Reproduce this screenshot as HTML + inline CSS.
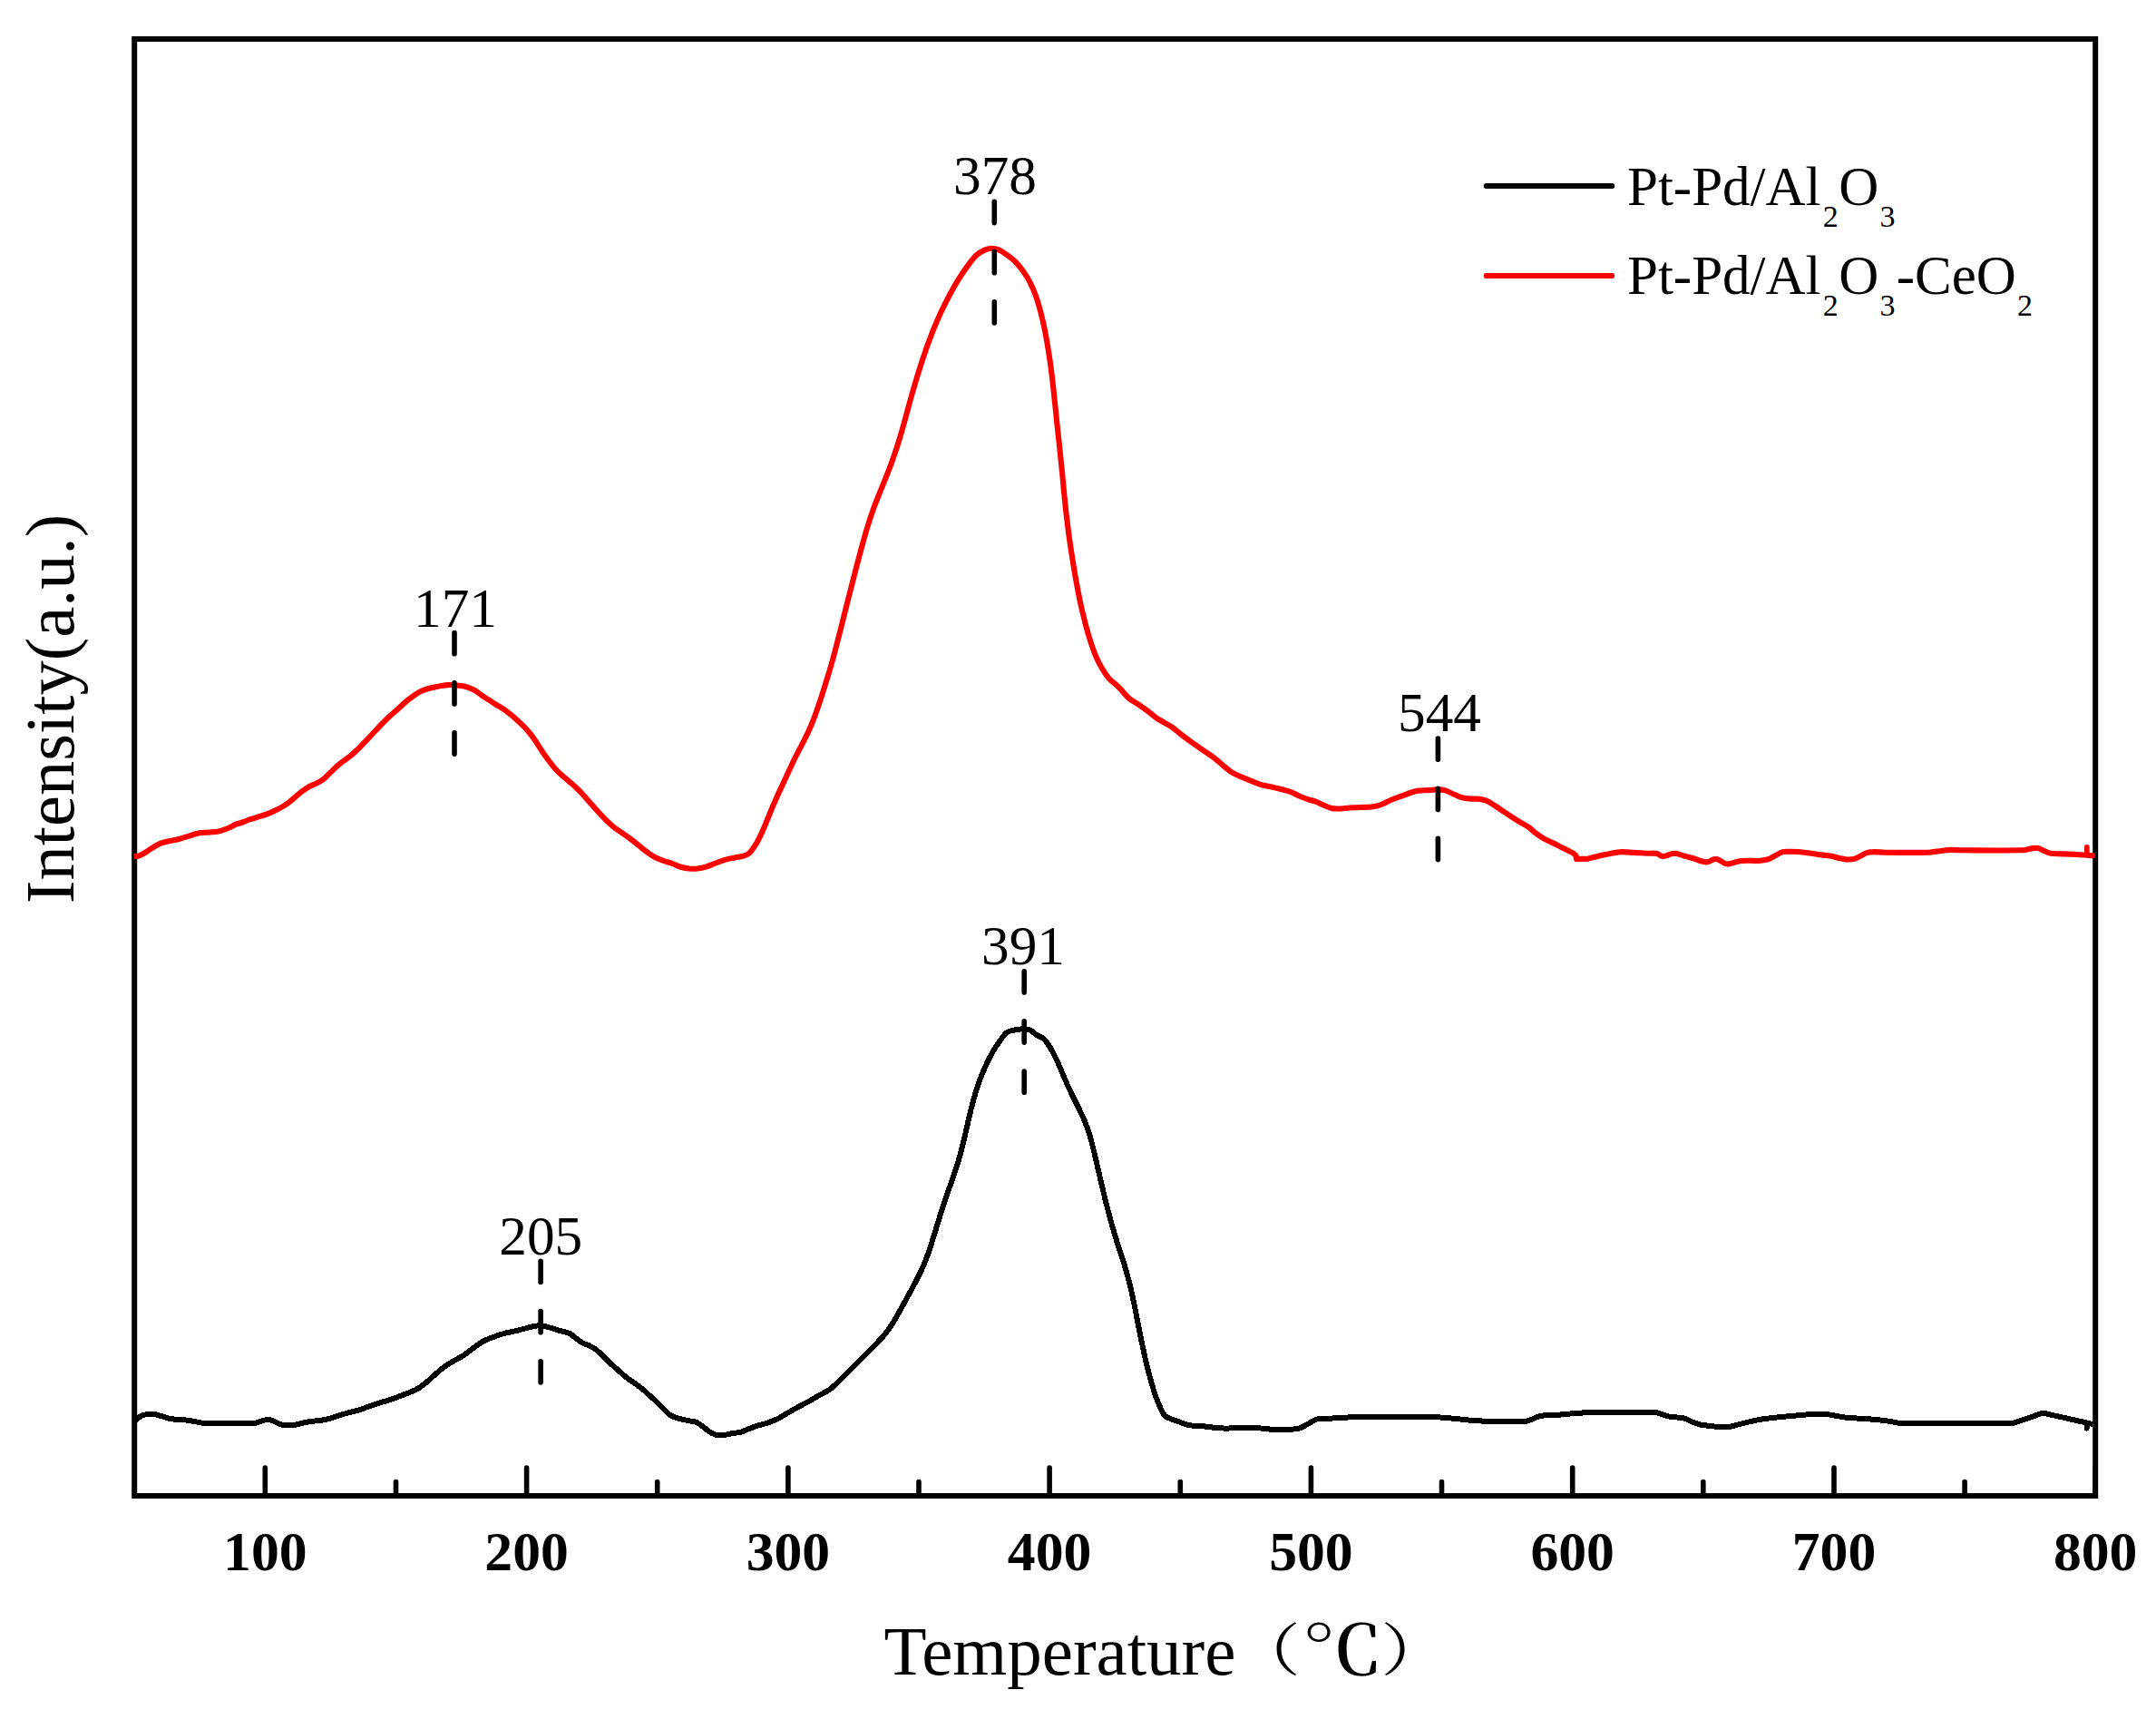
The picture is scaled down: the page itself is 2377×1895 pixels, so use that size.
<!DOCTYPE html>
<html lang="en">
<head>
<meta charset="utf-8">
<title>H2-TPR profiles</title>
<style>
html,body{margin:0;padding:0;background:#fff;}
body{width:2377px;height:1895px;overflow:hidden;}
svg{display:block;}
text{font-family:"Liberation Serif","Noto Serif CJK SC",serif;fill:#000;}
.tl text{font-weight:bold;font-size:61.7px;text-anchor:middle;}
.pk text{font-size:61.3px;text-anchor:middle;}
.lg text{font-size:61px;}
.lg text.s{font-size:34px;}
.ttl{font-size:77px;}
</style>
</head>
<body>
<svg width="2377" height="1895" viewBox="0 0 2377 1895">
<rect width="2377" height="1895" fill="#fff"/>
<g fill="none" stroke="#000" stroke-width="6" stroke-linejoin="miter">
<rect x="148.2" y="43.0" width="2162.0" height="1606.0"/>
</g>
<g stroke="#000" stroke-width="5.6" stroke-linecap="round">
<line x1="292.3" y1="1649" x2="292.3" y2="1618"/>
<line x1="580.6" y1="1649" x2="580.6" y2="1618"/>
<line x1="868.9" y1="1649" x2="868.9" y2="1618"/>
<line x1="1157.1" y1="1649" x2="1157.1" y2="1618"/>
<line x1="1445.4" y1="1649" x2="1445.4" y2="1618"/>
<line x1="1733.7" y1="1649" x2="1733.7" y2="1618"/>
<line x1="2022.0" y1="1649" x2="2022.0" y2="1618"/>
<line x1="2310.2" y1="1649" x2="2310.2" y2="1618"/>
<line x1="436.5" y1="1649" x2="436.5" y2="1633.5"/>
<line x1="724.7" y1="1649" x2="724.7" y2="1633.5"/>
<line x1="1013.0" y1="1649" x2="1013.0" y2="1633.5"/>
<line x1="1301.3" y1="1649" x2="1301.3" y2="1633.5"/>
<line x1="1589.5" y1="1649" x2="1589.5" y2="1633.5"/>
<line x1="1877.8" y1="1649" x2="1877.8" y2="1633.5"/>
<line x1="2166.1" y1="1649" x2="2166.1" y2="1633.5"/>
</g>
<path d="M148.3 1567.4C150.5 1565.4 152.3 1562.9 154.8 1561.4C157.0 1560.1 159.7 1559.4 162.3 1559.0C164.7 1558.6 167.3 1558.7 169.7 1559.0C172.2 1559.3 174.6 1560.2 177.1 1560.9C180.2 1561.8 183.2 1563.0 186.4 1563.7C189.4 1564.4 192.6 1564.7 195.7 1565.0C198.8 1565.3 201.9 1565.2 204.9 1565.5C208.0 1565.8 211.1 1566.5 214.2 1567.0C217.9 1567.6 221.6 1568.7 225.3 1568.9C233.9 1569.4 242.6 1569.2 251.3 1569.2C261.2 1569.2 271.2 1569.6 281.0 1568.9C283.6 1568.7 285.9 1567.2 288.4 1566.5C290.5 1565.9 292.7 1565.1 294.9 1565.0C296.8 1564.9 298.7 1565.5 300.5 1566.1C302.8 1566.9 304.8 1568.3 307.0 1569.2C308.8 1569.9 310.6 1570.9 312.5 1571.1C316.2 1571.5 320.0 1571.5 323.7 1571.1C326.8 1570.8 329.9 1569.6 333.0 1568.9C336.1 1568.2 339.1 1567.5 342.2 1567.0C345.9 1566.5 349.7 1566.4 353.4 1565.9C356.5 1565.4 359.6 1564.8 362.6 1564.0C366.4 1563.0 370.0 1561.4 373.8 1560.3C377.5 1559.2 381.2 1558.2 384.9 1557.2C388.6 1556.2 392.4 1555.5 396.0 1554.4C399.8 1553.2 403.4 1551.6 407.2 1550.3C410.9 1549.0 414.6 1547.8 418.3 1546.6C422.0 1545.4 425.7 1544.5 429.4 1543.3C433.2 1542.0 436.9 1540.6 440.6 1539.2C444.3 1537.8 448.0 1536.4 451.7 1534.9C454.8 1533.6 458.1 1532.3 461.0 1530.6C464.3 1528.6 467.3 1526.2 470.2 1523.8C473.4 1521.2 476.4 1518.1 479.5 1515.4C482.6 1512.7 485.6 1510.0 488.8 1507.6C491.8 1505.4 494.9 1503.4 498.1 1501.5C502.4 1498.9 506.9 1496.8 511.1 1494.1C515.0 1491.6 518.5 1488.5 522.3 1485.8C525.9 1483.2 529.5 1480.4 533.4 1478.3C536.9 1476.4 540.7 1475.1 544.5 1473.7C548.2 1472.3 551.9 1471.0 555.7 1470.0C559.3 1469.0 563.1 1468.5 566.8 1467.6C570.5 1466.7 574.2 1465.7 577.9 1464.8C581.6 1463.9 585.3 1462.7 589.1 1462.0C591.5 1461.5 594.1 1461.2 596.5 1461.3C599.0 1461.5 601.5 1462.2 603.9 1462.9C607.6 1463.9 611.3 1465.2 615.0 1466.3C619.3 1467.6 624.0 1468.2 628.0 1470.0C630.6 1471.2 632.5 1473.5 634.8 1475.2C637.3 1477.0 639.7 1478.9 642.3 1480.4C644.6 1481.7 647.3 1482.2 649.7 1483.4C652.3 1484.7 654.8 1486.1 657.1 1487.8C659.7 1489.8 662.1 1492.2 664.5 1494.5C667.0 1496.9 669.4 1499.5 671.9 1501.9C674.3 1504.2 676.9 1506.4 679.4 1508.6C681.9 1510.8 684.3 1513.1 686.8 1515.3C689.2 1517.3 691.7 1519.3 694.2 1521.2C696.6 1522.9 699.2 1524.4 701.6 1526.1C704.2 1528.0 706.7 1529.9 709.1 1532.0C711.6 1534.1 714.0 1536.5 716.5 1538.7C719.0 1540.9 721.5 1543.1 723.9 1545.4C726.4 1547.8 728.8 1550.4 731.3 1552.8C733.7 1555.2 736.0 1557.9 738.7 1559.8C740.9 1561.3 743.6 1562.3 746.2 1563.2C748.6 1564.0 751.1 1564.4 753.6 1565.0C756.1 1565.5 758.5 1566.0 761.0 1566.5C763.5 1567.0 766.2 1567.1 768.4 1568.2C771.3 1569.6 773.7 1572.0 776.4 1573.9C778.9 1575.7 781.2 1577.9 783.9 1579.4C786.2 1580.7 788.8 1581.8 791.3 1582.2C793.7 1582.6 796.3 1582.2 798.7 1581.9C801.2 1581.6 803.6 1580.9 806.1 1580.4C809.8 1579.7 813.7 1579.5 817.3 1578.5C820.5 1577.6 823.4 1576.0 826.5 1574.8C829.6 1573.6 832.7 1572.5 835.8 1571.5C839.5 1570.3 843.3 1569.6 846.9 1568.3C850.7 1567.0 854.5 1565.5 858.1 1563.7C861.9 1561.8 865.5 1559.3 869.2 1557.2C872.9 1555.1 876.6 1552.9 880.3 1550.9C883.9 1548.9 887.5 1547.2 891.1 1545.2C894.9 1543.1 898.6 1540.8 902.3 1538.7C906.6 1536.2 911.3 1534.2 915.3 1531.3C919.3 1528.4 922.8 1524.6 926.4 1521.1C930.8 1516.9 935.1 1512.4 939.4 1508.1C943.7 1503.8 948.1 1499.4 952.4 1495.1C956.7 1490.8 961.1 1486.5 965.3 1482.1C968.8 1478.4 972.4 1474.8 975.6 1470.9C978.6 1467.2 981.3 1463.2 983.9 1459.1C986.6 1455.0 988.9 1450.7 991.3 1446.4C993.8 1442.0 996.3 1437.5 998.7 1433.0C1001.2 1428.5 1003.6 1424.0 1006.0 1419.5C1008.3 1415.2 1010.7 1410.9 1012.8 1406.5C1014.9 1402.4 1016.8 1398.2 1018.6 1394.0C1020.3 1390.0 1021.9 1385.8 1023.4 1381.7C1024.9 1377.4 1026.2 1373.1 1027.6 1368.8C1029.1 1364.0 1030.6 1359.1 1032.1 1354.2C1033.9 1348.4 1035.6 1342.6 1037.5 1336.8C1039.5 1330.4 1041.7 1324.1 1043.8 1317.7C1046.0 1311.3 1048.3 1305.0 1050.5 1298.6C1052.6 1292.4 1054.7 1286.2 1056.6 1280.0C1058.4 1273.8 1060.1 1267.6 1061.6 1261.3C1063.2 1255.0 1064.6 1248.6 1066.1 1242.3C1067.5 1235.9 1068.9 1229.5 1070.5 1223.1C1072.1 1217.0 1073.6 1210.8 1075.5 1204.8C1077.2 1199.0 1079.2 1193.3 1081.3 1187.7C1083.4 1182.4 1085.7 1177.1 1088.1 1172.0C1090.4 1167.3 1092.8 1162.6 1095.4 1158.0C1097.7 1154.1 1100.2 1150.4 1102.9 1146.8C1105.1 1143.7 1107.3 1140.1 1110.3 1138.0C1112.9 1136.3 1116.4 1135.9 1119.6 1135.3C1122.6 1134.7 1125.7 1134.3 1128.8 1134.3C1131.0 1134.3 1133.4 1134.4 1135.3 1135.3C1138.0 1136.6 1140.1 1139.1 1142.7 1140.8C1145.4 1142.5 1148.8 1143.4 1151.1 1145.5C1153.8 1148.0 1155.8 1151.6 1157.8 1154.8C1160.1 1158.5 1162.1 1162.4 1164.0 1166.3C1166.2 1170.7 1168.0 1175.4 1170.0 1180.0C1172.1 1184.8 1174.1 1189.7 1176.2 1194.5C1178.4 1199.3 1180.6 1204.0 1182.9 1208.8C1185.1 1213.3 1187.5 1217.8 1189.6 1222.3C1191.7 1226.7 1193.9 1231.0 1195.7 1235.5C1197.6 1240.0 1199.2 1244.6 1200.7 1249.2C1202.3 1254.1 1203.6 1259.1 1204.8 1264.1C1206.2 1269.4 1207.4 1274.7 1208.6 1280.0C1209.9 1285.4 1211.1 1290.8 1212.3 1296.1C1213.6 1301.5 1214.8 1306.9 1216.1 1312.2C1217.4 1317.7 1218.7 1323.1 1220.1 1328.5C1221.5 1334.0 1222.9 1339.5 1224.4 1345.0C1225.9 1350.4 1227.5 1355.9 1229.1 1361.3C1230.7 1366.6 1232.4 1371.9 1234.1 1377.2C1235.8 1382.4 1237.6 1387.6 1239.2 1392.8C1240.8 1398.1 1242.3 1403.3 1243.7 1408.6C1245.2 1413.9 1246.4 1419.3 1247.7 1424.7C1248.9 1430.2 1250.0 1435.8 1251.2 1441.3C1252.3 1446.9 1253.3 1452.4 1254.4 1458.0C1255.5 1463.6 1256.6 1469.1 1257.7 1474.7C1258.9 1480.3 1260.1 1485.8 1261.3 1491.4C1262.5 1497.0 1263.8 1502.6 1265.2 1508.1C1266.6 1513.6 1268.0 1519.1 1269.6 1524.6C1271.0 1529.6 1272.5 1534.7 1274.3 1539.7C1275.7 1543.8 1277.4 1547.8 1279.3 1551.8C1280.8 1554.9 1282.1 1558.5 1284.5 1560.9C1286.4 1562.8 1289.4 1563.5 1291.9 1564.6C1294.9 1565.9 1298.1 1566.8 1301.2 1567.9C1304.3 1569.0 1307.3 1570.5 1310.5 1571.1C1314.7 1571.9 1319.2 1571.6 1323.5 1572.0C1326.6 1572.3 1329.7 1572.6 1332.8 1573.0C1336.5 1573.4 1340.2 1574.2 1343.9 1574.4C1351.3 1574.7 1358.8 1574.4 1366.2 1574.4C1373.6 1574.4 1381.0 1574.1 1388.4 1574.4C1392.7 1574.6 1397.1 1575.4 1401.4 1575.7C1405.1 1576.0 1408.8 1576.3 1412.5 1576.3C1416.2 1576.3 1420.0 1576.0 1423.7 1575.7C1426.8 1575.4 1430.0 1575.4 1432.9 1574.4C1436.2 1573.3 1439.1 1571.2 1442.2 1569.6C1445.3 1568.0 1448.2 1565.5 1451.5 1564.6C1455.0 1563.6 1458.9 1564.2 1462.6 1564.0C1468.8 1563.6 1475.0 1563.0 1481.2 1562.7C1490.5 1562.3 1499.7 1561.9 1509.0 1561.8C1524.5 1561.6 1539.9 1561.7 1555.4 1561.8C1564.7 1561.8 1573.9 1561.8 1583.2 1562.2C1589.4 1562.5 1595.6 1563.1 1601.8 1563.7C1609.9 1564.4 1617.9 1565.6 1626.0 1566.1C1634.6 1566.7 1643.3 1566.9 1651.9 1567.0C1661.8 1567.2 1671.8 1567.6 1681.6 1567.0C1684.2 1566.8 1686.6 1565.5 1689.1 1564.6C1692.2 1563.5 1695.1 1561.5 1698.3 1560.9C1703.7 1559.9 1709.4 1560.4 1715.0 1560.0C1723.7 1559.3 1732.3 1558.3 1741.0 1557.7C1749.7 1557.1 1758.3 1556.7 1767.0 1556.6C1776.9 1556.4 1786.8 1556.8 1796.7 1556.8C1806.0 1556.8 1815.3 1556.2 1824.5 1556.8C1827.1 1557.0 1829.4 1558.3 1831.9 1559.0C1835.0 1559.9 1838.0 1561.2 1841.2 1561.8C1846.1 1562.7 1851.2 1562.2 1856.0 1563.3C1859.3 1564.1 1862.1 1566.2 1865.3 1567.4C1868.3 1568.6 1871.4 1569.8 1874.6 1570.5C1878.2 1571.3 1882.0 1571.5 1885.7 1572.0C1888.8 1572.4 1891.9 1572.8 1895.0 1573.0C1898.7 1573.2 1902.5 1573.5 1906.1 1573.0C1909.9 1572.5 1913.6 1571.1 1917.3 1570.2C1921.6 1569.1 1925.9 1568.0 1930.2 1567.0C1934.5 1566.0 1938.8 1565.1 1943.2 1564.4C1949.4 1563.5 1955.6 1562.9 1961.8 1562.2C1968.0 1561.6 1974.1 1561.0 1980.3 1560.5C1986.1 1560.0 1991.8 1559.3 1997.6 1559.1C2003.0 1558.9 2008.4 1558.6 2013.8 1559.1C2020.8 1559.8 2027.7 1561.8 2034.7 1562.6C2043.9 1563.6 2053.2 1563.7 2062.5 1564.5C2069.5 1565.1 2076.5 1565.9 2083.4 1566.8C2087.3 1567.3 2091.1 1568.8 2095.0 1568.9C2115.0 1569.5 2135.2 1568.9 2155.3 1568.9C2176.0 1568.9 2196.8 1569.1 2217.5 1568.9C2218.7 1568.9 2219.9 1568.7 2221.0 1568.4C2223.9 1567.6 2226.7 1566.5 2229.5 1565.5C2233.4 1564.2 2237.3 1563.0 2241.1 1561.6C2243.6 1560.7 2246.0 1559.7 2248.5 1558.8C2249.8 1558.4 2251.1 1557.7 2252.4 1557.7C2253.8 1557.6 2255.1 1558.2 2256.5 1558.5C2258.3 1558.9 2260.2 1559.4 2262.0 1559.8C2268.2 1561.2 2274.3 1562.6 2280.5 1564.0C2286.5 1565.3 2292.5 1566.7 2298.5 1568.0C2301.4 1568.7 2304.3 1569.3 2307.2 1570.0" fill="none" stroke="#000" stroke-width="6" stroke-linejoin="round" stroke-linecap="butt" shape-rendering="crispEdges"/>
<path d="M147.6 944.0C149.1 943.9 150.6 944.0 152.0 943.7C153.5 943.4 155.0 942.7 156.4 942.0C158.7 940.8 160.9 939.3 163.1 937.9C165.6 936.3 168.0 934.6 170.5 933.1C172.9 931.7 175.3 930.4 177.9 929.4C180.3 928.5 182.8 928.0 185.3 927.5C189.0 926.7 192.8 926.2 196.5 925.3C200.2 924.4 203.9 923.0 207.6 921.9C211.3 920.8 214.9 919.3 218.7 918.6C222.4 917.9 226.2 917.9 229.9 917.5C233.6 917.1 237.4 917.2 241.0 916.4C244.8 915.6 248.5 914.2 252.1 912.7C254.7 911.7 257.0 909.9 259.6 908.9C262.1 907.9 264.8 907.4 267.4 906.5C269.9 905.6 272.3 904.4 274.8 903.5C277.3 902.6 279.8 902.1 282.3 901.3C284.8 900.6 287.2 899.8 289.7 899.0C292.2 898.2 294.7 897.4 297.1 896.4C299.6 895.4 302.1 894.3 304.5 893.1C307.0 891.8 309.5 890.5 311.9 889.0C314.5 887.4 317.0 885.7 319.4 883.8C322.0 881.8 324.3 879.6 326.8 877.5C329.2 875.5 331.6 873.4 334.2 871.6C336.6 869.9 339.0 868.2 341.6 866.8C344.0 865.5 346.7 864.7 349.1 863.4C351.6 862.1 354.2 860.7 356.5 859.0C359.2 856.9 361.4 854.3 363.9 851.9C366.4 849.6 368.8 847.1 371.3 844.9C373.7 842.8 376.2 840.8 378.7 838.9C381.2 837.0 383.8 835.3 386.2 833.4C388.0 832.0 389.8 830.4 391.5 828.8C393.5 826.9 395.5 825.0 397.4 823.1C399.9 820.5 402.3 817.9 404.8 815.3C407.3 812.6 409.8 809.9 412.3 807.2C414.8 804.6 417.2 802.0 419.7 799.4C422.1 796.9 424.6 794.4 427.1 792.0C429.5 789.7 432.0 787.5 434.5 785.3C437.0 783.1 439.4 780.8 441.9 778.6C444.4 776.4 446.8 774.0 449.4 771.9C451.8 770.0 454.3 768.1 456.8 766.4C459.2 764.8 461.6 763.1 464.2 761.9C466.5 760.8 469.1 760.0 471.6 759.3C474.1 758.6 476.6 758.1 479.1 757.5C481.6 757.0 484.0 756.4 486.5 756.0C489.0 755.6 491.4 755.2 493.9 755.1C496.4 755.0 498.8 755.1 501.3 755.2C503.8 755.4 506.3 755.6 508.7 756.0C511.2 756.4 513.8 757.0 516.2 757.8C518.8 758.7 521.3 759.8 523.6 761.2C526.2 762.7 528.5 764.7 531.0 766.4C533.4 768.0 535.9 769.6 538.4 771.2C541.4 773.2 544.4 775.2 547.4 777.1C549.8 778.6 552.4 779.9 554.8 781.5C557.4 783.2 559.9 785.2 562.3 787.1C564.8 789.1 567.3 791.2 569.7 793.4C572.2 795.7 574.7 798.0 577.1 800.4C579.5 802.9 581.9 805.6 584.1 808.3C586.3 811.0 588.2 813.8 590.2 816.6C592.1 819.4 593.8 822.3 595.7 825.1C597.5 827.9 599.3 830.7 601.3 833.4C603.2 836.2 605.3 839.0 607.4 841.6C609.6 844.4 611.8 847.2 614.2 849.8C616.5 852.2 619.1 854.3 621.6 856.5C624.1 858.6 626.6 860.7 629.1 862.8C631.6 865.0 634.1 867.2 636.5 869.5C639.1 872.0 641.5 874.7 643.9 877.3C645.4 879.0 646.9 880.7 648.4 882.4C651.5 885.9 654.5 889.5 657.7 893.0C660.7 896.3 663.8 899.6 667.0 902.8C670.0 905.8 673.0 908.8 676.3 911.5C679.2 913.9 682.4 915.8 685.5 918.0C688.6 920.2 691.8 922.2 694.8 924.5C698.0 926.9 701.0 929.4 704.1 931.9C707.2 934.4 710.2 937.0 713.4 939.3C716.4 941.4 719.4 943.6 722.6 945.3C725.5 946.8 728.8 947.9 731.9 949.0C735.0 950.1 738.1 950.9 741.2 952.0C744.3 953.1 747.3 954.8 750.5 955.7C753.5 956.6 756.6 957.2 759.7 957.5C762.8 957.8 765.9 957.8 769.0 957.5C772.1 957.2 775.3 956.6 778.3 955.7C781.5 954.8 784.5 953.2 787.6 952.0C791.7 950.5 795.8 948.8 800.0 947.6C803.3 946.6 806.8 946.1 810.2 945.4C813.2 944.8 816.3 944.6 819.2 943.8C821.4 943.1 823.8 942.3 825.6 940.9C827.6 939.4 828.9 937.0 830.4 935.0C832.0 932.8 833.5 930.5 834.9 928.1C836.4 925.5 837.7 922.8 838.9 920.1C840.3 917.3 841.5 914.4 842.7 911.5C844.0 908.5 845.2 905.4 846.5 902.3C847.9 898.9 849.2 895.6 850.6 892.2C852.1 888.8 853.5 885.3 855.0 881.9C856.6 878.4 858.1 875.0 859.7 871.6C861.3 868.2 862.9 864.9 864.4 861.5C866.1 857.9 867.7 854.4 869.3 850.8C871.1 847.1 872.8 843.4 874.5 839.7C876.4 835.9 878.3 832.1 880.2 828.3C882.2 824.6 884.2 820.8 886.1 817.0C888.0 813.3 889.9 809.6 891.6 805.8C893.4 802.0 895.0 798.1 896.5 794.2C898.2 790.1 899.6 785.8 901.1 781.6C902.6 777.2 904.1 772.7 905.6 768.2C907.1 763.4 908.7 758.7 910.1 753.9C911.8 748.5 913.5 743.1 915.1 737.7C916.9 731.3 918.7 724.9 920.4 718.5C922.2 711.6 923.9 704.8 925.7 697.9C927.5 691.0 929.2 684.2 930.9 677.3C932.6 670.5 934.3 663.8 936.0 657.0C937.7 650.4 939.4 643.8 941.1 637.2C942.7 630.8 944.4 624.3 946.1 617.9C947.8 611.5 949.4 605.2 951.2 598.8C953.0 592.5 954.7 586.1 956.7 579.9C958.5 573.9 960.5 567.9 962.6 562.0C964.6 556.3 966.9 550.8 969.1 545.2C971.4 539.4 973.8 533.7 976.1 527.9C978.5 521.8 980.9 515.8 983.1 509.7C985.3 503.6 987.4 497.4 989.4 491.2C991.4 485.0 993.2 478.8 995.0 472.6C996.8 466.5 998.4 460.3 1000.1 454.1C1001.8 447.9 1003.4 441.7 1005.2 435.5C1006.9 429.3 1008.8 423.1 1010.6 417.0C1012.5 410.8 1014.5 404.6 1016.5 398.4C1018.6 392.2 1020.6 386.0 1022.8 379.9C1025.1 373.7 1027.4 367.4 1029.9 361.3C1032.5 355.1 1035.2 348.9 1038.1 342.8C1041.0 336.6 1044.1 330.5 1047.3 324.5C1050.4 318.7 1053.7 313.0 1057.1 307.4C1060.2 302.5 1063.4 297.7 1066.8 293.1C1069.8 289.1 1072.7 284.9 1076.3 281.5C1078.9 279.0 1082.2 277.1 1085.5 275.6C1087.8 274.5 1090.5 273.8 1093.0 273.7C1095.4 273.6 1098.1 274.1 1100.4 275.0C1103.7 276.4 1106.7 278.5 1109.6 280.6C1112.8 282.9 1116.1 285.2 1118.9 288.0C1122.1 291.2 1125.0 294.8 1127.7 298.5C1130.5 302.4 1133.2 306.5 1135.4 310.8C1137.9 315.6 1140.0 320.7 1141.8 325.8C1143.9 331.4 1145.5 337.2 1147.1 343.0C1148.7 349.1 1150.1 355.2 1151.4 361.3C1152.7 367.5 1153.8 373.7 1154.8 379.9C1155.9 386.0 1156.8 392.2 1157.7 398.4C1158.6 404.6 1159.3 410.8 1160.1 417.0C1160.8 423.2 1161.5 429.3 1162.1 435.5C1162.8 441.7 1163.4 447.9 1164.1 454.1C1164.7 460.3 1165.3 466.4 1166.0 472.6C1166.6 478.8 1167.3 485.0 1168.0 491.2C1168.6 497.4 1169.3 503.5 1169.9 509.7C1170.5 515.8 1171.1 521.8 1171.7 527.8C1172.2 533.5 1172.7 539.1 1173.3 544.7C1173.8 550.0 1174.3 555.4 1174.9 560.7C1175.5 566.3 1176.2 571.9 1176.9 577.5C1177.6 583.6 1178.4 589.6 1179.3 595.7C1180.2 601.9 1181.1 608.0 1182.1 614.2C1183.0 620.4 1184.1 626.6 1185.1 632.8C1186.2 639.0 1187.3 645.2 1188.5 651.3C1189.7 657.5 1190.9 663.7 1192.3 669.9C1193.8 676.1 1195.3 682.3 1196.9 688.4C1198.5 694.6 1200.2 700.7 1202.2 706.8C1204.0 712.5 1205.9 718.2 1208.3 723.6C1210.3 728.4 1212.7 733.0 1215.4 737.5C1217.7 741.3 1220.2 745.2 1223.2 748.5C1226.2 751.8 1230.2 754.3 1233.4 757.5C1237.3 761.3 1240.4 766.0 1244.5 769.6C1247.8 772.5 1252.0 774.5 1255.7 777.0C1258.8 779.1 1261.9 781.2 1264.9 783.5C1268.1 785.9 1271.0 788.6 1274.2 790.9C1277.2 793.0 1280.4 794.6 1283.5 796.5C1286.6 798.3 1289.9 799.9 1292.8 802.0C1296.0 804.3 1298.9 807.1 1302.0 809.5C1305.1 811.9 1308.2 814.2 1311.3 816.5C1314.4 818.7 1317.5 820.8 1320.6 823.0C1323.7 825.2 1326.8 827.3 1329.9 829.5C1333.0 831.6 1336.2 833.5 1339.1 835.8C1342.3 838.3 1345.3 841.2 1348.4 843.8C1351.5 846.3 1354.4 849.1 1357.7 851.2C1360.6 853.1 1363.9 854.4 1367.0 855.8C1370.1 857.2 1373.2 858.3 1376.3 859.6C1379.4 860.8 1382.4 862.2 1385.5 863.3C1387.9 864.2 1390.4 865.1 1392.9 865.7C1396.6 866.6 1400.4 867.1 1404.1 867.9C1407.2 868.6 1410.3 869.5 1413.4 870.3C1416.5 871.1 1419.6 871.8 1422.6 872.9C1425.8 874.1 1428.8 875.9 1431.9 877.2C1435.0 878.5 1438.1 879.8 1441.2 880.9C1444.3 882.0 1447.5 882.6 1450.5 883.7C1453.6 884.9 1456.6 886.5 1459.7 887.8C1462.2 888.8 1464.6 890.1 1467.2 890.7C1469.6 891.3 1472.1 891.5 1474.6 891.5C1478.9 891.5 1483.3 890.8 1487.6 890.5C1491.9 890.3 1496.3 890.2 1500.6 890.0C1504.9 889.8 1509.2 889.8 1513.5 889.2C1516.6 888.8 1519.8 888.1 1522.8 887.0C1526.7 885.6 1530.2 883.4 1534.0 881.8C1537.6 880.3 1541.4 879.0 1545.1 877.6C1548.8 876.2 1552.5 874.7 1556.2 873.5C1558.6 872.7 1561.1 871.9 1563.6 871.6C1567.3 871.1 1571.1 871.3 1574.8 871.1C1578.5 870.9 1582.2 870.3 1585.9 870.4C1588.4 870.4 1591.0 870.7 1593.4 871.4C1596.6 872.4 1599.6 874.2 1602.7 875.5C1605.8 876.8 1608.7 878.4 1611.9 879.3C1614.9 880.1 1618.1 880.4 1621.2 880.6C1624.3 880.8 1627.4 880.4 1630.5 880.7C1633.0 881.0 1635.6 881.4 1637.9 882.4C1641.2 883.7 1644.2 885.7 1647.2 887.6C1651.0 889.9 1654.6 892.5 1658.3 895.0C1662.0 897.5 1665.7 900.0 1669.5 902.4C1672.5 904.3 1675.6 906.1 1678.7 908.0C1681.2 909.5 1683.8 910.9 1686.2 912.6C1688.8 914.5 1691.0 916.9 1693.6 918.8C1696.0 920.6 1698.4 922.3 1701.0 923.8C1703.4 925.2 1705.9 926.3 1708.4 927.5C1711.5 929.0 1714.6 930.6 1717.7 932.1C1720.8 933.7 1723.9 935.2 1727.0 936.8C1729.5 938.0 1731.9 939.3 1734.4 940.5L1737.6 943.3L1738.1 947.0L1751.1 946.6C1755.4 945.5 1759.7 944.3 1764.1 943.3C1767.8 942.4 1771.5 941.7 1775.2 941.0C1778.9 940.3 1782.6 939.4 1786.3 939.2C1791.2 939.0 1796.2 939.6 1801.2 939.9C1806.1 940.1 1811.1 940.5 1816.0 940.7C1819.7 940.9 1823.6 940.3 1827.2 941.0C1828.7 941.3 1829.7 943.2 1831.2 943.6C1832.8 944.1 1834.7 943.9 1836.4 943.6C1838.3 943.2 1840.1 941.8 1842.0 941.4C1844.1 940.9 1846.4 940.7 1848.5 941.0C1851.3 941.4 1854.0 942.8 1856.8 943.6C1859.9 944.5 1863.0 945.1 1866.1 946.0C1869.2 946.9 1872.2 948.4 1875.4 949.2C1877.8 949.8 1880.4 950.6 1882.8 950.3C1885.1 950.0 1887.0 947.9 1889.3 947.3C1890.7 946.9 1892.5 946.8 1893.9 947.3C1896.5 948.2 1898.8 950.6 1901.4 951.6C1903.1 952.2 1905.1 952.5 1906.9 952.2C1910.7 951.7 1914.3 949.8 1918.1 949.2C1921.7 948.6 1925.5 948.9 1929.2 948.8C1933.2 948.7 1937.2 949.2 1941.1 948.8C1944.2 948.5 1947.4 947.9 1950.4 946.9C1953.0 946.0 1955.3 944.2 1957.8 942.9C1960.3 941.6 1962.6 939.8 1965.3 939.1C1968.2 938.4 1971.4 938.7 1974.5 938.8C1979.5 938.9 1984.5 939.2 1989.4 939.7C1994.4 940.2 1999.3 941.2 2004.2 941.9C2009.2 942.6 2014.2 942.9 2019.1 943.8C2022.8 944.5 2026.5 945.9 2030.2 946.6C2032.6 947.1 2035.1 947.5 2037.6 947.5C2040.1 947.5 2042.7 947.3 2045.0 946.6C2047.6 945.8 2049.9 944.1 2052.4 942.9C2054.3 942.0 2056.0 940.7 2058.0 940.1C2060.4 939.4 2062.9 939.1 2065.4 939.1C2069.7 939.0 2074.1 939.7 2078.4 939.7C2094.5 939.9 2110.6 940.1 2126.7 939.7C2130.4 939.6 2134.1 938.6 2137.8 938.2C2142.1 937.7 2146.5 937.1 2150.8 936.9C2155.1 936.8 2159.5 937.3 2163.8 937.3C2185.5 937.4 2207.3 937.6 2229.0 937.3C2231.2 937.3 2233.3 936.7 2235.5 936.3C2237.4 936.0 2239.3 935.3 2241.3 935.1C2243.3 934.9 2245.4 934.7 2247.3 935.1C2249.2 935.5 2251.0 936.9 2252.8 937.7C2254.7 938.5 2256.5 939.5 2258.4 940.1C2260.2 940.6 2262.0 940.9 2263.9 941.0C2270.1 941.4 2276.3 941.3 2282.5 941.6C2287.8 941.8 2293.0 942.2 2298.3 942.5C2301.3 942.7 2304.4 943.0 2307.4 943.2" fill="none" stroke="#fe0000" stroke-width="6.1" stroke-linejoin="round" stroke-linecap="butt"/>
<line x1="2300.8" y1="1569" x2="2300.8" y2="1574.8" stroke="#000" stroke-width="5.6" stroke-linecap="round" shape-rendering="crispEdges"/>
<line x1="2300.8" y1="942" x2="2300.8" y2="933.7" stroke="#fe0000" stroke-width="5.6" stroke-linecap="round"/>
<circle cx="2307.2" cy="943.2" r="3" fill="#fe0000"/>
<g stroke="#000" stroke-width="5.6" stroke-linecap="round">
<line x1="1096.3" y1="222.4" x2="1096.3" y2="245.6"/>
<line x1="1096.3" y1="277.6" x2="1096.3" y2="300.8"/>
<line x1="1096.3" y1="332.8" x2="1096.3" y2="356.0"/>
<line x1="501.0" y1="697.5" x2="501.0" y2="720.7"/>
<line x1="501.0" y1="752.7" x2="501.0" y2="775.9"/>
<line x1="501.0" y1="807.9" x2="501.0" y2="831.1"/>
<line x1="1585.4" y1="814.0" x2="1585.4" y2="837.2"/>
<line x1="1585.4" y1="869.2" x2="1585.4" y2="892.4"/>
<line x1="1585.4" y1="924.4" x2="1585.4" y2="947.6"/>
<line x1="1129.2" y1="1070.7" x2="1129.2" y2="1093.9"/>
<line x1="1129.2" y1="1125.9" x2="1129.2" y2="1149.1"/>
<line x1="1129.2" y1="1181.1" x2="1129.2" y2="1204.3"/>
<line x1="596.1" y1="1390.3" x2="596.1" y2="1413.5"/>
<line x1="596.1" y1="1445.5" x2="596.1" y2="1468.7"/>
<line x1="596.1" y1="1500.7" x2="596.1" y2="1523.9"/>
</g>
<g class="pk"><text x="1097.0" y="214.0">378</text><text x="502.0" y="690.5">171</text><text x="1587.0" y="806.3">544</text><text x="1128.0" y="1063.3">391</text><text x="596.3" y="1383.0">205</text></g>
<g class="tl">
<text x="292.3" y="1730.6">100</text>
<text x="580.6" y="1730.6">200</text>
<text x="868.9" y="1730.6">300</text>
<text x="1157.1" y="1730.6">400</text>
<text x="1445.4" y="1730.6">500</text>
<text x="1733.7" y="1730.6">600</text>
<text x="2022.0" y="1730.6">700</text>
<text x="2310.2" y="1730.6">800</text>
</g>
<g stroke-width="6.2" stroke-linecap="round">
<line x1="1638.8" y1="205" x2="1777.2" y2="205" stroke="#000"/>
<line x1="1638.8" y1="304" x2="1777.2" y2="304" stroke="#f00"/>
</g>
<g class="lg">
<text x="1794" y="226">Pt-Pd/Al</text><text class="s" x="2009.8" y="250">2</text><text x="2027.3" y="226">O</text><text class="s" x="2072.6" y="250">3</text>
<text x="1794" y="324.3">Pt-Pd/Al</text><text class="s" x="2009.8" y="348">2</text><text x="2027.3" y="324.3">O</text><text class="s" x="2072.6" y="348">3</text><text x="2090.8" y="324.3">-CeO</text><text class="s" x="2224" y="348">2</text>
</g>
<text class="ttl" x="974.5" y="1845.5">Temperature</text>
<g font-size="100"><text transform="translate(1358.5 1841.4) scale(0.754 0.628)">（</text><text font-weight="500" transform="translate(1435.3 1846.3) scale(0.9 0.748)">℃</text><text transform="translate(1522.3 1841.4) scale(0.754 0.628)">）</text></g>
<text class="ttl" style="font-size:76.5px" transform="translate(80.7 996) rotate(-90)">Intensity(a.u.)</text>
</svg>
</body>
</html>
